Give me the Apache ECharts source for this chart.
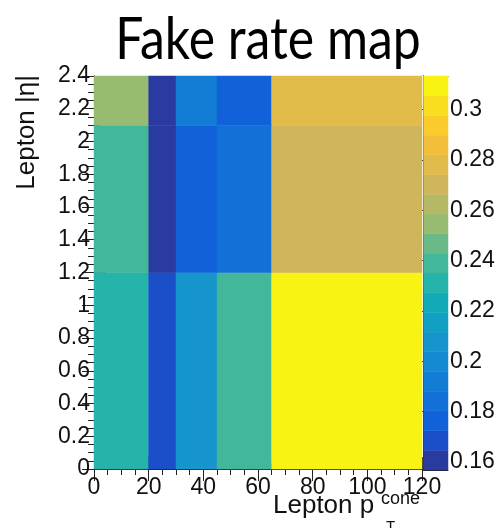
<!DOCTYPE html>
<html>
<head>
<meta charset="utf-8">
<script src="https://cdn.jsdelivr.net/npm/echarts@6/dist/echarts.min.js"></script>
<style>
  html, body { margin: 0; padding: 0; background: #fff; }
  #chart { width: 502px; height: 528px; }
</style>
</head>
<body>
<div id="chart"></div>
<script>
// Bin edges of the fake-rate histogram
const ptEdges = [0, 20, 30, 45, 65, 120];
const etaEdges = [0, 1.2, 2.1, 2.4];

// Fake rate per pT bin, one array per |eta| bin
const rateEtaLow = [0.231, 0.168, 0.207, 0.239, 0.3134];
const rateEtaMid = [0.241, 0.1568, 0.176, 0.184, 0.270];
const rateEtaHigh = [0.255, 0.158, 0.192, 0.178, 0.278];

// Palette tick labels
const paletteTicks = [0.16, 0.18, 0.2, 0.22, 0.24, 0.26, 0.28, 0.3];

// 20-step palette, lowest to highest
const palette = [
  '#293b9f', '#1b4fca', '#1162d9', '#1270d8', '#137dd5',
  '#1489d1', '#1595cb', '#11a0c4', '#13aab8', '#25b3aa',
  '#42b79a', '#6aba88', '#97bb71', '#b5b865', '#cfb65b',
  '#e2bc4b', '#f3bf3a', '#fbcb2c', '#f9de20', '#f8f312'
];

const rows = [rateEtaLow, rateEtaMid, rateEtaHigh];
const allRates = rows.flat();
const zMin = Math.min(...allRates);
const zMax = Math.max(...allRates);
const nSteps = palette.length;
const step = (zMax - zMin) / nSteps;

function colorOf(v) {
  let k = Math.floor((v - zMin) / step + 1e-9);
  if (k < 0) k = 0;
  if (k >= nSteps) k = nSteps - 1;
  return palette[k];
}

// cells: [pt0, pt1, eta0, eta1, rate]
const cells = [];
rows.forEach((row, j) => {
  row.forEach((v, i) => {
    cells.push([ptEdges[i], ptEdges[i + 1], etaEdges[j], etaEdges[j + 1], v]);
  });
});

// palette bands: [0, 1, lo, hi, mid]
const bands = palette.map((c, k) => [0, 1, zMin + k * step, zMin + (k + 1) * step, zMin + (k + 0.5) * step]);

const FONT = 'Liberation Sans';
const frame = { show: true, lineStyle: { color: '#222', width: 1 } };
const majTick = (show) => ({ show: show, inside: true, length: 12, lineStyle: { color: '#222', width: 1 } });
const minTick = { show: true, splitNumber: 4, length: 6, lineStyle: { color: '#222', width: 1 } };
const lbl = { fontFamily: FONT, fontSize: 23, color: '#111' };

function rectItem(params, api) {
  const a = api.coord([api.value(0), api.value(3)]);
  const b = api.coord([api.value(1), api.value(2)]);
  const fill = colorOf(api.value(4));
  return {
    type: 'rect',
    shape: { x: a[0], y: a[1], width: b[0] - a[0], height: b[1] - a[1] },
    style: { fill: fill, stroke: fill, lineWidth: 0.5 }
  };
}

const chart = echarts.init(document.getElementById('chart'), null, { renderer: 'canvas' });
chart.setOption({
  backgroundColor: '#fff',
  animation: false,
  grid: [
    { left: 94, top: 76, width: 328, height: 393 },
    { left: 423.5, top: 76, width: 24.5, height: 394 }
  ],
  xAxis: [
    { gridIndex: 0, type: 'value', position: 'bottom', min: 0, max: 120, interval: 20,
      axisLine: frame, axisTick: majTick(true), minorTick: minTick,
      splitLine: { show: false }, minorSplitLine: { show: false },
      axisLabel: Object.assign({ margin: 7 }, lbl) },
    { gridIndex: 0, type: 'value', position: 'top', min: 0, max: 120, interval: 20,
      axisLine: frame, axisTick: majTick(true), minorTick: minTick,
      splitLine: { show: false }, axisLabel: { show: false } },
    { gridIndex: 1, type: 'value', position: 'bottom', min: 0, max: 1,
      axisLine: frame, axisTick: { show: false }, splitLine: { show: false }, axisLabel: { show: false } },
    { gridIndex: 1, type: 'value', position: 'top', min: 0, max: 1,
      axisLine: frame, axisTick: { show: false }, splitLine: { show: false }, axisLabel: { show: false } }
  ],
  yAxis: [
    { gridIndex: 0, type: 'value', position: 'left', min: 0, max: 2.4, interval: 0.2,
      axisLine: frame, axisTick: majTick(true), minorTick: minTick,
      splitLine: { show: false }, minorSplitLine: { show: false },
      axisLabel: Object.assign({ margin: 4 }, lbl) },
    { gridIndex: 0, type: 'value', position: 'right', min: 0, max: 2.4, interval: 0.2,
      axisLine: frame, axisTick: majTick(true), minorTick: minTick,
      splitLine: { show: false }, axisLabel: { show: false } },
    { gridIndex: 1, type: 'value', position: 'right', min: zMin, max: zMax,
      axisLine: frame,
      axisTick: { show: true, inside: true, length: 12, customValues: paletteTicks, lineStyle: { color: '#222', width: 1 } },
      splitLine: { show: false },
      axisLabel: Object.assign({ margin: 2, customValues: paletteTicks,
        formatter: (v) => String(+v.toFixed(2)) }, lbl) },
    { gridIndex: 1, type: 'value', position: 'left', min: zMin, max: zMax,
      axisLine: frame, axisTick: { show: false }, splitLine: { show: false }, axisLabel: { show: false } }
  ],
  series: [
    { type: 'custom', xAxisIndex: 0, yAxisIndex: 0, renderItem: rectItem,
      encode: { x: [0, 1], y: [2, 3] }, data: cells, z: 1 },
    { type: 'custom', xAxisIndex: 2, yAxisIndex: 2, renderItem: rectItem,
      encode: { x: [0, 1], y: [2, 3] }, data: bands, z: 1 }
  ],
  graphic: [
    { type: 'text', x: 268, y: 69, scaleX: 0.86, z: 10,
      style: { text: 'Fake rate map', fontFamily: 'Lato', fontSize: 58, fill: '#000',
        textAlign: 'center', textVerticalAlign: 'bottom' } },
    { type: 'text', x: 27, y: 75, rotation: Math.PI / 2, z: 10,
      style: { text: 'Lepton |η|', fontFamily: FONT, fontSize: 26, fill: '#111',
        textAlign: 'right', textVerticalAlign: 'middle' } },
    { type: 'text', x: 273, y: 519, z: 10,
      style: { text: 'Lepton p', fontFamily: FONT, fontSize: 26, fill: '#111',
        textAlign: 'left', textVerticalAlign: 'bottom' } },
    { type: 'text', x: 381, y: 508, z: 10,
      style: { text: 'cone', fontFamily: FONT, fontSize: 18, fill: '#111',
        textAlign: 'left', textVerticalAlign: 'bottom' } },
    { type: 'text', x: 386, y: 534, z: 10,
      style: { text: 'T', fontFamily: FONT, fontSize: 15, fill: '#111',
        textAlign: 'left', textVerticalAlign: 'bottom' } }
  ]
});
</script>
</body>
</html>
